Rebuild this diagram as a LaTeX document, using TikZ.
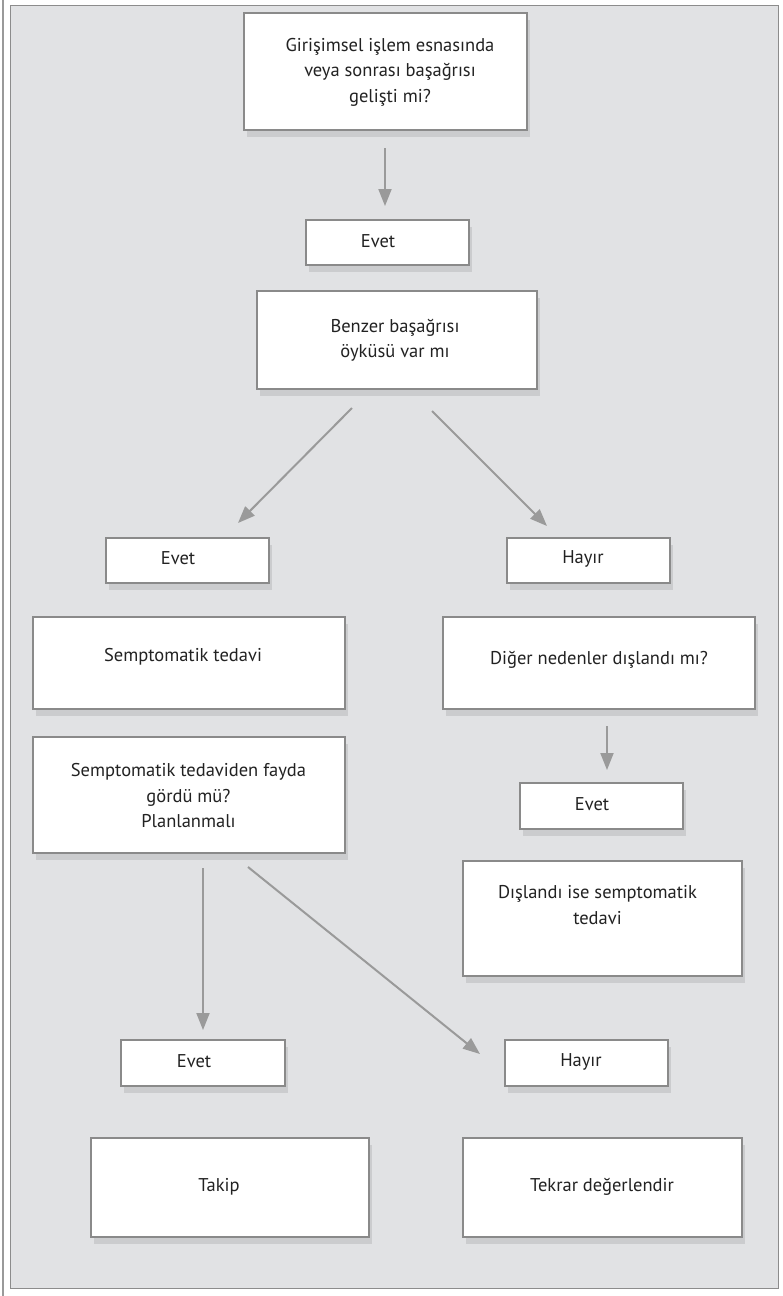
\documentclass[tikz,border=0pt]{standalone}
\usepackage{fontspec}
\setmainfont{PT Sans}
\usetikzlibrary{arrows.meta,shadows}

\definecolor{panelfill}{HTML}{E1E2E4}
\definecolor{panelline}{HTML}{8C8C8C}
\definecolor{boxline}{HTML}{8A8A8A}
\definecolor{shadowc}{HTML}{CBCCCE}
\definecolor{arrowc}{HTML}{9A9A9A}
\definecolor{inkc}{HTML}{222222}

% a flow box: name, x1, y1, x2, y2, text x, text y, text
\newcommand{\flowbox}[8]{%
  \node[box, minimum width={#4-#2}, minimum height={#5-#3}] (#1)
    at ({(#2+#4)/2},{(#3+#5)/2}) {};
  \node[txt] (#1-text) at (#6,#7) {#8};}

\tikzset{
  box/.style={draw=boxline, fill=white, line width=1.1pt, inner sep=0pt,
    drop shadow={shadow xshift=3pt, shadow yshift=-7pt, fill=shadowc, opacity=1}},
  txt/.style={text=inkc, align=center, inner sep=0pt,
    font=\fontsize{18.5}{25.5}\selectfont},
  flow/.style={draw=arrowc, line width=2pt,
    -{Triangle[length=17pt,width=13pt]}}
}

\begin{document}
\begin{tikzpicture}[x=1pt,y=-1pt]
  \useasboundingbox (0,0) rectangle (782,1296);

  % page rule and panel
  \draw[arrowc, line width=1.5pt] (3,0) -- (3,1296);
  \draw[panelline, fill=panelfill, line width=1.5pt] (10.5,5.5) rectangle (778.5,1288.5);

  % boxes
  \flowbox{q1}{244}{13}{527}{130}{390}{72}{Girişimsel işlem esnasında\\veya sonrası başağrısı\\gelişti mi?}
  \flowbox{e1}{306}{220}{469}{265}{378}{241}{Evet}
  \flowbox{q2}{257}{291}{537}{389}{395}{340}{Benzer başağrısı\\öyküsü var mı}
  \flowbox{e2}{106}{538}{269}{583}{178}{558}{Evet}
  \flowbox{h2}{507}{538}{670}{583}{583}{559}{Hayır}
  \flowbox{s1}{33}{617}{345}{709}{183}{657}{Semptomatik tedavi}
  \flowbox{d1}{443}{617}{755}{709}{599}{660}{Diğer nedenler dışlandı mı?}
  \flowbox{s2}{33}{737}{345}{853}{188.5}{796}{Semptomatik tedaviden fayda\\gördü mü?\\Planlanmalı}
  \flowbox{e3}{520}{783}{683}{829}{592}{804}{Evet}
  \flowbox{d2}{463}{861}{742}{976}{597.5}{905}{Dışlandı ise semptomatik\\tedavi}
  \flowbox{e4}{121}{1040}{285}{1086}{194}{1061}{Evet}
  \flowbox{h4}{505}{1040}{668}{1086}{581}{1062}{Hayır}
  \flowbox{t1}{91}{1138}{369}{1237}{219}{1187}{Takip}
  \flowbox{t2}{463}{1138}{742}{1237}{602}{1187}{Tekrar değerlendir}

  % connector ends
  \coordinate (a1s) at (385,148);  \coordinate (a1e) at (385,206);
  \coordinate (a2s) at (352,408);  \coordinate (a2e) at (238,523);
  \coordinate (a3s) at (432,411);  \coordinate (a3e) at (547,526);
  \coordinate (a4s) at (607,726);  \coordinate (a4e) at (607,770);
  \coordinate (a5s) at (203,868);  \coordinate (a5e) at (203,1030);
  \coordinate (a6s) at (248,867);  \coordinate (a6e) at (480,1054);

  % connectors
  \draw[flow] (a1s) -- (a1e);
  \draw[flow] (a2s) -- (a2e);
  \draw[flow] (a3s) -- (a3e);
  \draw[flow] (a4s) -- (a4e);
  \draw[flow] (a5s) -- (a5e);
  \draw[flow] (a6s) -- (a6e);
\end{tikzpicture}
\end{document}
